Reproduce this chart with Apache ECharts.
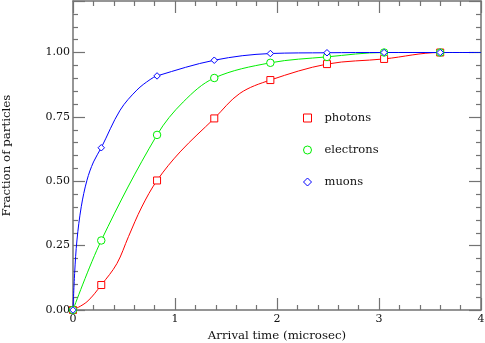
<!DOCTYPE html>
<html>
<head>
<meta charset="utf-8">
<script src="https://cdn.jsdelivr.net/npm/echarts@6/dist/echarts.min.js"></script>
<style>html,body{margin:0;padding:0;background:#fff}#c{width:485px;height:343px}</style>
</head>
<body>
<div id="c"></div>
<script>
// Marker positions
const markerTimes   = [0, 0.277, 0.824, 1.385, 1.935, 2.49, 3.05, 3.6];
const photonMarks   = [0, 0.097, 0.503, 0.744, 0.893, 0.955, 0.975, 1.0];
const electronMarks = [0, 0.270, 0.680, 0.901, 0.960, 0.983, 1.0, 1.0];
const muonMarks     = [0, 0.630, 0.909, 0.970, 0.996, 0.999, 1.0, 1.0];

// Curve points
const photonCurveX   = [0, 0.137, 0.277, 0.430, 0.544, 0.674, 0.824, 1.05, 1.385, 1.635, 1.935, 2.49, 3.05, 3.6, 4.0];
const photonCurveY   = [0, 0.032, 0.097, 0.180, 0.285, 0.400, 0.503, 0.614, 0.744, 0.841, 0.893, 0.955, 0.975, 1.0, 1.0];
const electronCurveX = [0, 0.277, 0.824, 1.081, 1.385, 1.935, 2.49, 3.05, 3.6, 4.0];
const electronCurveY = [0, 0.270, 0.680, 0.808, 0.901, 0.960, 0.983, 1.0, 1.0, 1.0];
const muonCurveX     = [0, 0.016, 0.039, 0.081, 0.137, 0.201, 0.277, 0.462, 0.626, 0.756, 0.824, 1.385, 1.935, 2.49, 3.05, 3.6, 4.0];
const muonCurveY     = [0, 0.142, 0.272, 0.401, 0.504, 0.575, 0.630, 0.776, 0.854, 0.895, 0.909, 0.970, 0.996, 0.999, 1.0, 1.0, 1.0];

const seriesNames = ['photons', 'electrons', 'muons'];
const xTicks = ['0', '1', '2', '3', '4'];
const yTicks = ['0.00', '0.25', '0.50', '0.75', '1.00'];

const FONT = 'DejaVu Serif';
const axisCol = '#737373';

const zip = (xs, ys) => xs.map((x, i) => [x, ys[i]]);

function curve(name, xs, ys, color) {
  return { name: name + ' curve', type: 'line', data: zip(xs, ys), smooth: 0.35,
    symbol: 'none', lineStyle: { color, width: 1 }, emphasis: { disabled: true },
    silent: true, z: 2 };
}
function marks(name, ys, color, symbol, size) {
  return { name, type: 'scatter', data: zip(markerTimes, ys), symbol, symbolSize: size,
    itemStyle: { color: '#fff', borderColor: color, borderWidth: 1, opacity: 1 },
    emphasis: { disabled: true }, silent: true, z: 3 };
}
function tick() { return { show: true, inside: true, length: 12, lineStyle: { color: axisCol, width: 1.2 } }; }
function minor() { return { show: true, splitNumber: 5, length: 5, lineStyle: { color: axisCol, width: 1.2 } }; }
function line() { return { show: true, onZero: false, lineStyle: { color: axisCol, width: 1.5 } }; }

const chart = echarts.init(document.getElementById('c'), null, { renderer: 'canvas' });
chart.setOption({
  animation: false,
  grid: { left: 73, right: 4, top: 1, bottom: 33, containLabel: false, outerBoundsMode: 'none' },
  xAxis: [
    { type: 'value', min: 0, max: 4, interval: 1, position: 'bottom',
      axisLine: line(), axisTick: tick(), minorTick: minor(), splitLine: { show: false },
      axisLabel: { color: '#111', fontFamily: FONT, fontSize: 11, margin: 4,
        formatter: v => xTicks[Math.round(v)] },
      name: 'Arrival time (microsec)', nameLocation: 'middle', nameGap: 20,
      nameTextStyle: { color: '#111', fontFamily: FONT, fontSize: 11.8 } },
    { type: 'value', min: 0, max: 4, interval: 1, position: 'top',
      axisLine: line(), axisTick: tick(), minorTick: minor(), splitLine: { show: false },
      axisLabel: { show: false } }
  ],
  yAxis: [
    { type: 'value', min: 0, max: 1.2, interval: 0.25, position: 'left',
      axisLine: line(), axisTick: tick(), minorTick: minor(), splitLine: { show: false },
      axisLabel: { color: '#111', fontFamily: FONT, fontSize: 11, margin: 3,
        formatter: v => { const i = Math.round(v / 0.25); return Math.abs(v - i * 0.25) < 1e-6 ? yTicks[i] : ''; } },
      name: 'Fraction of particles', nameLocation: 'middle', nameGap: 60, nameRotate: 90,
      nameTextStyle: { color: '#111', fontFamily: FONT, fontSize: 11.8 } },
    { type: 'value', min: 0, max: 1.2, interval: 0.25, position: 'right',
      axisLine: line(), axisTick: tick(), minorTick: minor(), splitLine: { show: false },
      axisLabel: { show: false } }
  ],
  legend: {
    orient: 'vertical', left: 298, top: 106, itemWidth: 8, itemHeight: 8, itemGap: 18,
    data: seriesNames, itemStyle: { borderWidth: 1 },
    textStyle: { color: '#111', fontFamily: FONT, fontSize: 11.5, lineHeight: 14, padding: [0, 0, 0, 8] },
    selectedMode: false
  },
  series: [
    curve(seriesNames[0], photonCurveX, photonCurveY, '#ff0000'),
    curve(seriesNames[1], electronCurveX, electronCurveY, '#00ee00'),
    curve(seriesNames[2], muonCurveX, muonCurveY, '#0000ff'),
    marks(seriesNames[0], photonMarks, '#ff0000', 'rect', 7),
    marks(seriesNames[1], electronMarks, '#00ee00', 'circle', 7.5),
    marks(seriesNames[2], muonMarks, '#0000ff', 'diamond', 6.5)
  ]
});
</script>
</body>
</html>
